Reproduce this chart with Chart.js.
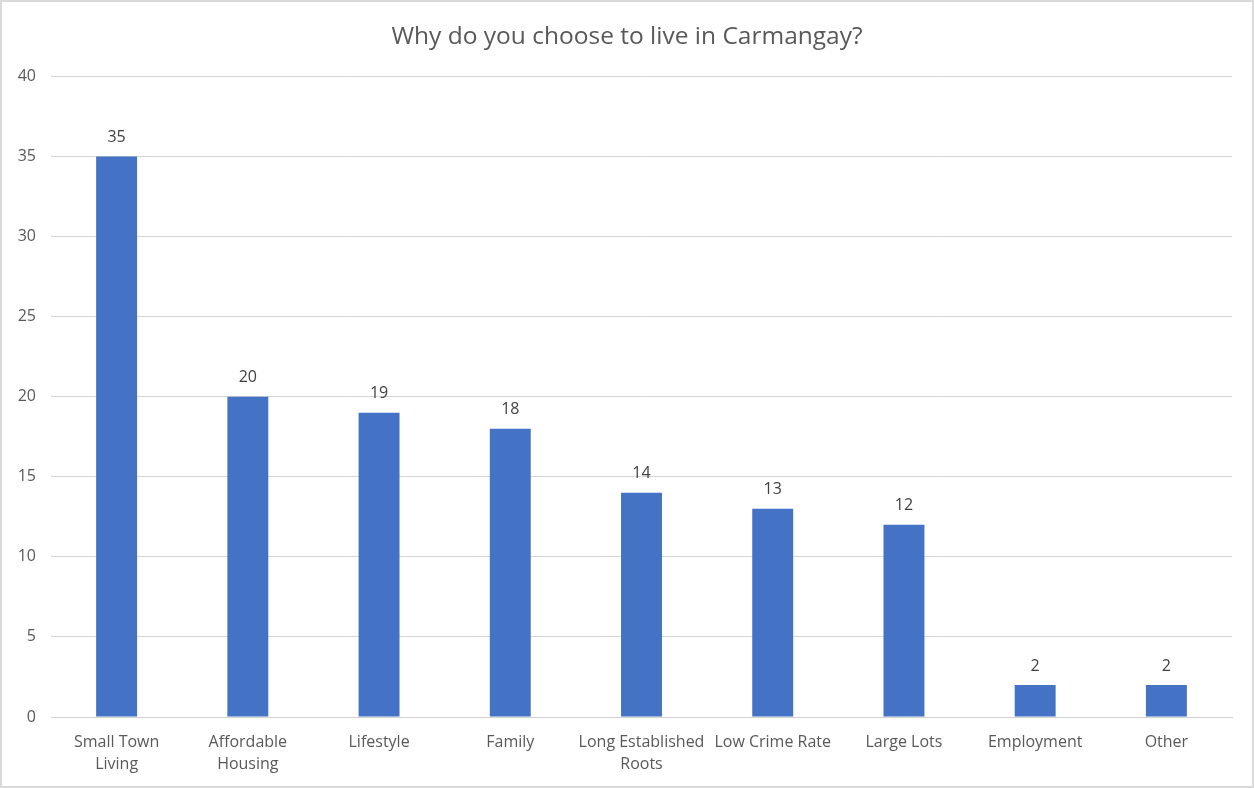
<!DOCTYPE html>
<html lang="en">
<head>
    <meta charset="UTF-8">
    <title>Why do you choose to live in Carmangay?</title>
    <script src="https://cdn.jsdelivr.net/npm/chart.js"></script>
    <style>
        html, body { margin: 0; padding: 0; background: #fff; }
        .frame {
            width: 1254px; height: 788px;
            box-sizing: border-box;
            border: 2px solid #d9d9d9;
            background: #fff;
        }
        .frame canvas { display: block; }
    </style>
</head>
<body>
    <div class="frame">
        <canvas id="reasonsChart" width="1250" height="784"></canvas>
    </div>

    <script>
        // Chart data
        const categories = [
            ['Small Town', 'Living'],
            ['Affordable', 'Housing'],
            'Lifestyle',
            'Family',
            ['Long Established', 'Roots'],
            'Low Crime Rate',
            'Large Lots',
            'Employment',
            'Other'
        ];
        const responses = [35, 20, 19, 18, 14, 13, 12, 2, 2];
        const yTicks = [0, 5, 10, 15, 20, 25, 30, 35, 40];

        const FONT = "'Open Sans', 'Noto Sans', sans-serif";

        // value labels on top of each bar
        const barLabels = {
            id: 'barLabels',
            afterDatasetsDraw(chart) {
                const ctx = chart.ctx;
                const meta = chart.getDatasetMeta(0);
                ctx.save();
                ctx.font = '16px ' + FONT;
                ctx.fillStyle = '#404040';
                ctx.textAlign = 'center';
                ctx.textBaseline = 'middle';
                meta.data.forEach((bar, i) => {
                    ctx.fillText(String(responses[i]), bar.x, bar.y - 19);
                });
                ctx.restore();
            }
        };

        new Chart(document.getElementById('reasonsChart').getContext('2d'), {
            type: 'bar',
            data: {
                labels: categories,
                datasets: [{
                    data: responses,
                    backgroundColor: '#4472C4',
                    barPercentage: 0.312,
                    categoryPercentage: 1.0
                }]
            },
            options: {
                responsive: false,
                animation: false,
                layout: { padding: 0 },
                plugins: {
                    legend: { display: false },
                    tooltip: { enabled: false },
                    title: {
                        display: true,
                        text: 'Why do you choose to live in Carmangay?',
                        color: '#595959',
                        font: { family: FONT, size: 24.5, weight: 'normal' },
                        padding: { top: 20, bottom: 25 }
                    }
                },
                scales: {
                    x: {
                        grid: { display: false, drawTicks: false },
                        border: { display: true, color: '#d0d0d0', width: 1 },
                        ticks: {
                            color: '#595959',
                            font: { family: FONT, size: 16, lineHeight: 1.375 },
                            padding: 14,
                            maxRotation: 0,
                            autoSkip: false
                        },
                        afterFit(scale) { scale.height = 69; }
                    },
                    y: {
                        min: 0,
                        max: 40,
                        afterBuildTicks(scale) {
                            scale.ticks = yTicks.map(v => ({ value: v }));
                        },
                        grid: { color: '#d4d4d4', drawTicks: false },
                        border: { display: false },
                        ticks: {
                            color: '#595959',
                            font: { family: FONT, size: 16 },
                            padding: 15
                        },
                        afterFit(scale) { scale.width = 49; }
                    },
                    // empty right-hand spacer so the title stays centred on the picture
                    yRight: {
                        position: 'right',
                        grid: { display: false, drawTicks: false },
                        border: { display: false },
                        ticks: { display: false },
                        afterFit(scale) { scale.width = 20; }
                    }
                }
            },
            plugins: [barLabels]
        });
    </script>
</body>
</html>
